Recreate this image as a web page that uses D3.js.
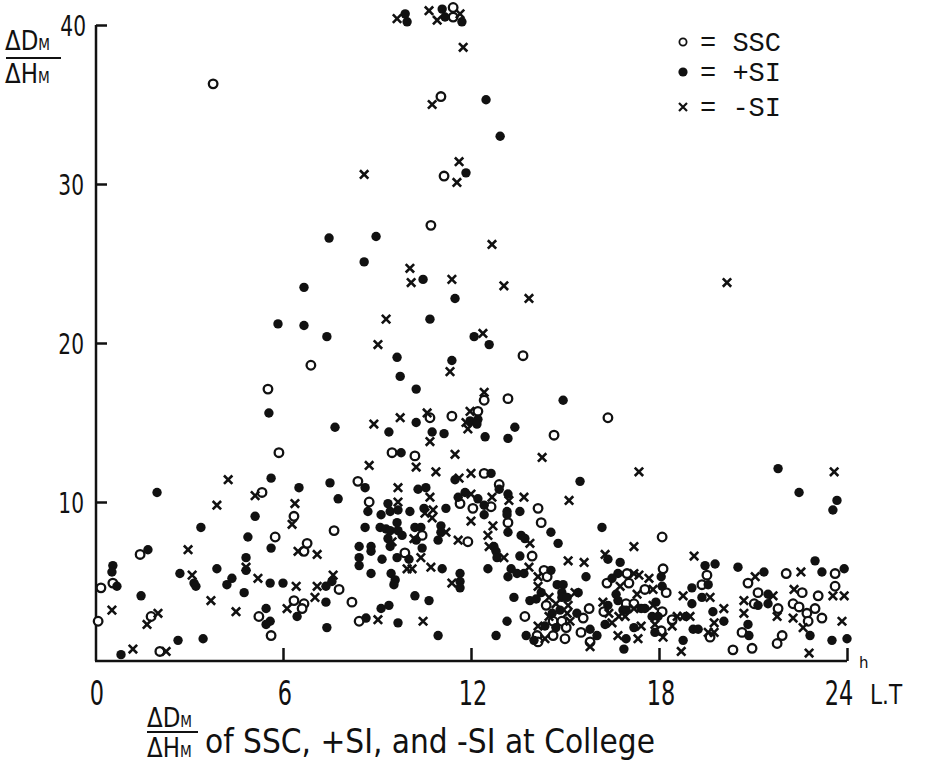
<!DOCTYPE html>
<html>
<head>
<meta charset="utf-8">
<script src="https://cdn.jsdelivr.net/npm/d3@7"></script>
<style>
  body { margin: 0; background: #fff; }
  .hand { font-family: "DejaVu Sans", sans-serif; font-weight: 400; fill: #111; }
  .mono { font-family: "Liberation Mono", "DejaVu Sans Mono", monospace; fill: #111; }
</style>
</head>
<body>
<div id="scatter"></div>
<script>
// [local time (h), dDm/dHm]
var sscPoints = [[3.77,36.3],[11.43,41.1],[11.43,40.5],[11.04,35.5],[11.14,30.5],[16.37,15.3],[5.87,13.1],[6.89,18.6],[5.52,17.1],[10.72,27.4],[13.66,19.2],[12.42,16.4],[13.18,16.5],[10.69,15.3],[11.39,15.4],[12.22,15.7],[14.65,14.2],
  [5.33,10.6],[6.35,9.1],[7.63,8.2],[5.75,7.8],[1.44,6.7],[6.67,6.9],[6.77,7.4],[0.57,4.9],[0.19,4.6],[7.79,4.5],[6.35,3.8],[6.67,3.6],[5.23,2.8],[6.61,3.3],[1.79,2.8],[0.1,2.5],[5.62,1.6],[2.07,0.6],
  [9.48,13.1],[10.21,12.9],[12.42,11.8],[8.39,11.3],[12.9,11.1],[8.75,10.0],[11.65,9.9],[12.06,9.6],[12.64,9.7],[14.14,9.6],[13.18,8.7],[14.24,8.7],[10.44,7.9],[11.9,7.5],[9.89,6.8],[13.95,6.6],[14.33,5.7],[14.43,5.3],[8.2,3.7],[14.4,3.5],[15.77,3.3],[15.58,2.7],[8.43,2.5],[13.72,2.8],[14.62,2.5],[14.9,2.5],[15.04,2.1],[14.11,1.6],[14.14,1.2],[14.62,1.6],[15.0,1.4],[15.51,1.8],[15.8,1.2],
  [18.1,7.8],[18.13,5.8],[22.06,5.5],[23.62,5.5],[20.84,4.9],[23.62,4.7],[16.34,4.9],[16.98,5.5],[17.04,4.9],[17.55,4.5],[18.23,4.3],[19.37,4.8],[19.53,5.4],[21.16,4.3],[21.04,3.6],[21.8,3.3],[22.57,4.3],[23.08,4.1],[22.28,3.6],[22.47,3.4],[22.98,3.3],[22.72,3.0],[23.2,2.7],[22.76,2.5],[21.93,1.6],[21.77,1.1],[20.65,1.8],[20.97,0.8],[20.36,0.7],[19.63,1.5],[18.42,2.6],[18.07,1.9],[18.1,3.1],[16.95,3.6],[17.2,3.6],[16.24,3.1]];

var plusSiPoints = [[9.9,40.7],[9.96,40.2],[11.08,41.0],[11.17,40.5],[11.71,40.2],[12.48,35.3],[12.93,33.0],[11.84,30.7],
  [7.47,26.6],[6.67,23.5],[5.84,21.2],[6.67,21.1],[7.4,20.4],[5.55,15.6],[7.66,14.7],
  [8.97,26.7],[8.59,25.1],[10.47,24.0],[11.49,22.8],[10.69,21.5],[12.1,20.4],[12.58,19.9],[9.64,19.1],[11.39,18.9],[9.74,17.9],[10.25,17.1],[14.94,16.4],[9.38,14.4],[10.25,15.0],[11.97,15.1],[12.22,15.2],[12.19,14.9],[10.76,14.4],[11.14,14.3],[13.4,14.7],[12.45,14.1],[13.18,14.0],
  [5.62,11.5],[1.98,10.6],[6.51,10.9],[7.5,11.2],[7.76,10.2],[5.11,9.1],[3.38,8.4],[4.88,7.8],[5.62,7.1],[1.69,7.0],[4.82,6.5],[4.82,5.7],[3.89,5.8],[0.57,6.0],[0.54,5.6],[0.7,4.7],[2.71,5.5],[3.16,4.9],[3.22,4.7],[4.37,5.2],[4.21,4.8],[5.59,4.9],[6.0,4.9],[7.37,4.7],[7.56,5.0],[4.76,4.3],[1.47,4.1],[7.37,3.7],[5.46,3.3],[6.45,2.8],[5.59,2.5],[5.46,2.3],[7.4,2.1],[2.65,1.3],[3.45,1.4],[0.83,0.4],
  [9.77,13.1],[12.64,11.8],[11.49,11.4],[8.62,10.9],[10.31,10.8],[10.56,10.9],[15.48,11.3],[12.9,10.8],[11.81,10.6],[11.59,10.3],[12.22,10.2],[13.18,10.5],[8.71,9.4],[9.13,9.2],[9.35,9.9],[9.42,9.4],[9.67,9.5],[10.05,9.4],[10.5,9.6],[11.2,9.6],[12.42,9.8],[12.42,9.2],[13.15,9.4],[13.15,9.2],[13.56,9.4],[8.62,8.4],[9.1,8.4],[9.29,8.3],[9.42,8.2],[9.64,8.7],[9.67,8.2],[9.8,7.9],[10.21,8.4],[10.4,8.4],[11.04,8.5],[11.04,8.1],[13.18,8.1],[14.55,8.1],[9.35,7.7],[9.42,7.2],[10.25,7.6],[10.95,7.6],[13.6,7.9],[13.72,7.7],[8.43,7.2],[8.81,7.2],[8.81,6.9],[12.73,7.2],[12.8,6.9],[10.44,7.1],[14.78,7.4],[8.43,6.5],[8.43,6.0],[9.16,6.4],[9.64,6.5],[10.02,6.4],[12.83,6.5],[13.56,6.6],[8.81,5.5],[9.45,5.5],[11.08,5.8],[11.65,5.5],[12.54,5.8],[13.28,5.8],[13.47,5.5],[13.69,5.5],[13.18,5.3],[14.55,5.7],[15.67,5.3],[9.58,5.1],[9.54,4.8],[11.65,5.0],[11.65,4.6],[14.24,4.3],[14.75,4.8],[14.94,4.8],[14.9,4.3],[15.42,4.3],[14.9,4.0],[15.07,4.0],[10.21,4.1],[10.66,3.8],[13.37,4.0],[13.88,3.8],[14.08,3.9],[9.13,3.3],[9.38,3.5],[14.59,3.0],[14.84,3.2],[15.38,3.0],[8.65,2.7],[9.67,2.4],[13.15,2.5],[14.36,2.2],[14.71,2.1],[15.8,2.0],[10.95,1.6],[12.8,1.6],[13.76,1.6],[14.01,1.3],
  [21.8,12.1],[22.47,10.6],[23.68,10.1],[23.55,9.5],[16.18,8.4],[16.37,6.4],[16.76,6.2],[19.79,6.1],[19.47,6.0],[20.52,5.9],[22.98,6.3],[23.91,5.8],[21.35,5.6],[23.2,5.6],[16.69,5.5],[16.5,5.2],[18.07,5.3],[18.1,4.7],[19.05,4.6],[19.57,4.8],[19.37,4.0],[19.05,3.6],[21.48,4.2],[21.16,3.5],[21.48,3.6],[22.82,1.6],[23.52,1.3],[24.0,1.4],[20.84,2.3],[20.87,1.6],[20.07,2.5],[19.72,3.1],[19.09,2.0],[19.25,2.0],[18.77,1.3],[18.86,2.8],[17.87,1.8],[17.78,2.8],[17.97,2.8],[17.9,3.7],[17.43,3.3],[17.55,3.3],[17.2,2.1],[16.95,1.4],[16.88,0.75],[16.69,3.8],[16.85,3.2],[16.95,3.2],[16.63,4.2],[16.37,3.5],[16.28,2.3],[16.02,1.6]];

var minusSiPoints = [[9.64,40.4],[10.66,40.9],[10.92,40.3],[11.65,40.7],[11.75,38.6],[10.76,35.0],[8.59,30.6],[11.62,31.4],[11.55,30.1],
  [20.17,23.8],
  [12.67,26.2],[10.05,24.7],[10.09,23.8],[11.39,24.0],[13.05,23.6],[13.85,22.8],[9.29,21.5],[12.38,20.6],[9.03,19.9],[11.33,18.2],[12.42,16.9],[8.9,14.9],[9.74,15.3],[10.6,15.6],[11.97,15.7],[11.84,15.0],[11.9,14.6],
  [4.25,11.4],[5.11,10.4],[3.89,9.8],[6.38,9.9],[6.29,8.6],[2.97,7.0],[6.48,6.9],[7.09,6.7],[4.82,5.9],[3.1,5.4],[5.2,5.2],[6.42,4.7],[7.09,4.7],[7.6,5.4],[3.7,3.8],[7.02,4.0],[0.54,3.2],[4.5,3.1],[6.13,3.3],[2.01,3.0],[1.66,2.3],[1.21,0.75],[2.27,0.6],
  [10.69,13.8],[11.49,13.0],[14.27,12.8],[8.75,12.3],[10.25,12.2],[10.88,11.9],[12.0,11.8],[11.62,11.5],[9.67,10.9],[10.69,10.3],[12.0,10.5],[12.67,10.3],[13.21,10.1],[13.69,10.3],[15.13,10.1],[9.67,10.0],[10.53,9.3],[10.79,9.5],[10.76,9.0],[12.0,8.8],[11.2,8.1],[12.7,8.5],[12.54,7.9],[9.48,7.5],[10.18,7.7],[11.59,7.6],[13.88,7.4],[12.58,7.2],[10.4,6.5],[13.05,6.5],[15.1,6.3],[15.61,6.2],[9.96,5.8],[10.12,5.8],[10.72,5.9],[13.85,5.9],[14.14,5.3],[11.39,4.9],[14.14,4.7],[15.32,4.3],[14.49,4.0],[14.71,3.6],[15.1,3.5],[14.49,2.8],[15.07,3.0],[9.03,2.6],[10.47,2.5],[14.14,2.2],[15.16,2.5],[14.36,1.4],[15.8,0.9],
  [17.36,11.9],[23.59,11.9],[17.2,7.2],[16.28,6.7],[19.12,6.6],[22.53,5.6],[21.07,5.3],[17.2,5.5],[17.36,5.4],[17.68,5.2],[16.76,4.7],[17.3,4.2],[17.81,4.5],[18.77,4.1],[19.63,4.0],[21.64,4.1],[20.71,3.8],[21.77,2.8],[22.31,4.5],[23.55,4.1],[23.91,4.1],[22.28,2.7],[23.84,2.5],[22.6,2.1],[22.79,0.5],[20.71,3.0],[20.07,3.3],[19.76,2.4],[19.57,1.8],[19.76,1.8],[18.71,0.6],[18.58,2.8],[18.77,2.8],[18.99,2.8],[18.42,2.2],[18.13,1.5],[17.87,2.3],[17.81,3.5],[17.2,3.3],[17.43,2.2],[17.33,1.4],[16.69,1.6],[16.21,3.7],[16.4,3.0],[16.5,2.4],[16.72,2.8],[16.92,2.8]];

var xTicks = [0, 6, 12, 18, 24];
var yTicks = [10, 20, 30, 40];
var legendLabels = ["= SSC", "= +SI", "= -SI"];

var svgWidth = 925;
var svgHeight = 766;

var svg = d3.select("#scatter")
  .append("svg")
  .attr("width", svgWidth)
  .attr("height", svgHeight);

var xScale = d3.scaleLinear().domain([0, 24]).range([95, 847]);
var yScale = d3.scaleLinear().domain([0, 40]).range([661, 25]);

// axes: ticks point into the plot, no domain path from d3
var xAxis = d3.axisTop(xScale).tickValues(xTicks.slice(1)).tickSize(13).tickFormat("");
svg.append("g")
  .attr("transform", `translate(0, ${yScale(0)})`)
  .call(xAxis)
  .call(g => g.select(".domain").remove())
  .call(g => g.selectAll("line").attr("stroke", "#111").attr("stroke-width", 2.5));

var yAxis = d3.axisRight(yScale).tickValues(yTicks).tickSize(11).tickFormat("");
svg.append("g")
  .attr("transform", `translate(${xScale(0) + 1}, 0)`)
  .call(yAxis)
  .call(g => g.select(".domain").remove())
  .call(g => g.selectAll("line").attr("stroke", "#111").attr("stroke-width", 2.5));

svg.append("line")
  .attr("x1", xScale(0)).attr("x2", xScale(24))
  .attr("y1", yScale(0)).attr("y2", yScale(0))
  .attr("stroke", "#111").attr("stroke-width", 2.5);
svg.append("line")
  .attr("x1", xScale(0) + 1).attr("x2", xScale(0) + 1)
  .attr("y1", yScale(0)).attr("y2", yScale(40))
  .attr("stroke", "#111").attr("stroke-width", 2.5);

// tick labels, squeezed to look like the narrow hand lettering
svg.selectAll(".xlab")
  .data(xTicks)
  .enter()
  .append("text")
  .attr("class", "hand")
  .attr("transform", d => `translate(${xScale(d) + (d === 24 ? -8 : 2)}, 705) scale(0.68, 1)`)
  .attr("text-anchor", "middle")
  .attr("font-size", "33px")
  .text(d => d);

svg.append("text").attr("class", "hand").attr("x", 859).attr("y", 668)
  .attr("font-size", "15px").text("h");
svg.append("text").attr("class", "hand")
  .attr("transform", "translate(870, 704) scale(0.8, 1)")
  .attr("font-size", "27px").text("L.T");

svg.selectAll(".ylab")
  .data(yTicks)
  .enter()
  .append("text")
  .attr("class", "hand")
  .attr("transform", d => `translate(${d === 40 ? 86 : 84}, ${d === 40 ? 36 : yScale(d) + 11}) scale(0.72, 1)`)
  .attr("text-anchor", "end")
  .attr("font-size", "28px")
  .text(d => d);

// y label fraction
var yLab = svg.append("g").attr("class", "hand");
yLab.append("text").attr("transform", "translate(5, 50) scale(0.85, 1)").attr("font-size", "27px")
  .html('ΔD<tspan font-size="16px">M</tspan>');
yLab.append("line").attr("x1", 6).attr("x2", 61).attr("y1", 58).attr("y2", 58)
  .attr("stroke", "#111").attr("stroke-width", 2);
yLab.append("text").attr("transform", "translate(5, 83) scale(0.85, 1)").attr("font-size", "27px")
  .html('ΔH<tspan font-size="16px">M</tspan>');

// bottom title
var title = svg.append("g").attr("class", "hand");
title.append("text").attr("transform", "translate(147, 727) scale(0.85, 1)").attr("font-size", "27px")
  .html('ΔD<tspan font-size="16px">M</tspan>');
title.append("line").attr("x1", 147).attr("x2", 198).attr("y1", 732).attr("y2", 732)
  .attr("stroke", "#111").attr("stroke-width", 2);
title.append("text").attr("transform", "translate(147, 757) scale(0.85, 1)").attr("font-size", "27px")
  .html('ΔH<tspan font-size="16px">M</tspan>');
title.append("text").attr("x", 205).attr("y", 753).attr("font-size", "33px")
  .attr("textLength", 450).attr("lengthAdjust", "spacingAndGlyphs")
  .text("of SSC, +SI, and -SI at College");

// markers
var crossPath = function(d) {
  var cx = xScale(d[0]), cy = yScale(d[1]), s = 4.2;
  return `M${cx - s},${cy - s}L${cx + s},${cy + s}M${cx - s},${cy + s}L${cx + s},${cy - s}`;
};

svg.append("g").selectAll("circle")
  .data(sscPoints)
  .enter()
  .append("circle")
  .attr("cx", d => xScale(d[0]))
  .attr("cy", d => yScale(d[1]))
  .attr("r", 4.3)
  .attr("fill", "#fff")
  .attr("stroke", "#111")
  .attr("stroke-width", 2.3);

svg.append("g").selectAll("circle")
  .data(plusSiPoints)
  .enter()
  .append("circle")
  .attr("cx", d => xScale(d[0]))
  .attr("cy", d => yScale(d[1]))
  .attr("r", 4.7)
  .attr("fill", "#111");

svg.append("g").selectAll("path")
  .data(minusSiPoints)
  .enter()
  .append("path")
  .attr("d", crossPath)
  .attr("stroke", "#111")
  .attr("stroke-width", 2.6)
  .attr("fill", "none");

// legend
var legend = svg.append("g");
var legendY = [42, 72, 107];
legend.append("circle").attr("cx", 683).attr("cy", legendY[0]).attr("r", 3.6)
  .attr("fill", "#fff").attr("stroke", "#111").attr("stroke-width", 1.8);
legend.append("circle").attr("cx", 683).attr("cy", legendY[1]).attr("r", 4.6).attr("fill", "#111");
legend.append("path")
  .attr("d", `M679,${legendY[2] - 4}L687,${legendY[2] + 4}M679,${legendY[2] + 4}L687,${legendY[2] - 4}`)
  .attr("stroke", "#111").attr("stroke-width", 2.2);
legend.selectAll("text")
  .data(legendLabels)
  .enter()
  .append("text")
  .attr("class", "mono")
  .attr("x", 700)
  .attr("y", (d, i) => legendY[i] + 9)
  .attr("font-size", "27px")
  .text(d => d);
</script>
</body>
</html>
